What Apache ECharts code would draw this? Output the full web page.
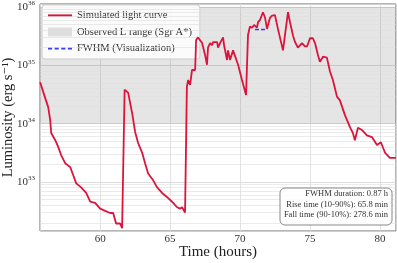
<!DOCTYPE html>
<html>
<head>
<meta charset="utf-8">
<script src="https://cdn.jsdelivr.net/npm/echarts@6/dist/echarts.min.js"></script>
<style>
html,body{margin:0;padding:0;background:#fff;}
#c{width:397px;height:263px;}
</style>
</head>
<body>
<div id="c"></div>
<script>
// ---- data ----
var timeHours = [
  55.71,55.93,56.07,56.29,56.43,56.50,56.79,57.00,57.21,57.50,57.86,58.07,58.29,58.64,59.00,59.29,59.64,60.00,60.36,60.71,60.93,61.14,61.43,61.57,61.64,
  61.75,61.86,62.00,62.29,62.50,62.71,63.00,63.21,63.43,63.79,64.07,64.43,64.79,65.14,65.50,65.71,65.86,66.07,66.14,
  66.20,66.29,66.43,66.57,66.64,66.79,66.86,67.00,67.29,67.50,67.64,67.71,67.86,68.00,68.07,68.21,68.36,68.43,68.57,68.79,68.86,
  69.07,69.14,69.29,69.43,69.50,69.64,69.86,70.14,70.43,70.50,
  70.57,70.71,70.86,71.00,71.21,71.29,71.43,71.64,71.79,71.93,72.14,72.29,72.50,72.71,73.07,73.43,73.57,73.79,73.93,74.14,74.43,74.64,74.79,
  75.00,75.21,75.36,75.57,75.71,75.93,76.21,76.43,76.64,76.93,77.14,77.50,77.86,78.07,78.21,78.43,78.71,79.07,79.43,79.79,80.07,80.36,80.71,81.14
];
var luminosity = [
  5.1e34,3.5e34,3.4e34,1.9e34,1.15e34,6.9e33,5.2e33,4.0e33,2.9e33,2.1e33,1.8e33,1.32e33,9.5e32,8.1e32,6.5e32,4.6e32,4.4e32,3.5e32,3.2e32,2.95e32,2.95e32,1.95e32,1.95e32,1.62e32,1.55e32,
  3.8e34,4.1e34,3.4e34,1.5e34,7.2e33,4.7e33,3.2e33,2.1e33,1.4e33,1.07e33,8.1e32,6.5e32,5.5e32,4.6e32,3.7e32,3.5e32,3.7e32,3.0e32,2.95e32,
  4.3e34,5.6e34,4.6e34,8.3e34,8.9e34,8.3e34,2.7e35,3.0e35,2.4e35,1.5e35,1.02e35,2.0e35,2.4e35,2.2e35,2.5e35,2.4e35,2.5e35,2.0e35,2.4e35,3.0e35,2.2e35,
  1.23e35,1.8e35,1.23e35,1.15e35,1.8e35,1.8e35,1.02e35,5.6e34,3.1e34,2.9e34,
  3.3e35,4.6e35,4.4e35,4.9e35,4.4e35,5.5e35,6.0e35,8.1e35,6.5e35,4.2e35,6.5e35,7.1e35,7.2e35,4.2e35,1.8e35,8.1e35,5.5e35,3.2e35,2.5e35,2.0e35,2.4e35,2.1e35,2.1e35,
  2.9e35,2.9e35,2.4e35,1.5e35,1.15e35,1.4e35,1.35e35,7.8e34,5.6e34,2.9e34,2.5e34,1.4e34,8.7e33,6.9e33,5.2e33,8.5e33,7.8e33,6.3e33,5.9e33,4.3e33,4.8e33,3.2e33,2.6e33,2.6e33
];
var fwhmTimes = [71.07, 71.94];
var fwhmLevel = [4.1e35, 4.1e35];
var observedRange = [1e34, 1e36];
var xTicks = [60, 65, 70, 75, 80];
var yDecades = [33, 34, 35, 36];
var minorDecades = [32, 33, 34, 35];
var minorMantissas = [2, 3, 4, 5, 6, 7, 8, 9];
var seriesNames = ['Simulated light curve', 'Observed L range (Sgr A*)', 'FWHM (Visualization)'];
var statLines = ['FWHM duration: 0.87 h', 'Rise time (10-90%): 65.8 min', 'Fall time (90-10%): 278.6 min'];

// ---- build chart ----
var FONT = "'Liberation Serif', 'DejaVu Serif', serif";
var curve = timeHours.map(function (t, i) { return [t, luminosity[i]]; });
var fwhm = fwhmTimes.map(function (t, i) { return [t, fwhmLevel[i]]; });
var minorLines = [];
minorDecades.forEach(function (d) {
  minorMantissas.forEach(function (m) { minorLines.push({ yAxis: m * Math.pow(10, d) }); });
});

var statGraphics = statLines.map(function (s, i) {
  return {
    type: 'text', x: 388, y: 194 + i * 10.5, z: 101,
    style: { text: s, fontFamily: FONT, fontSize: 8.5, fill: '#333', align: 'right', verticalAlign: 'middle' }
  };
});

var chart = echarts.init(document.getElementById('c'), null, { renderer: 'canvas' });
chart.setOption({
  animation: false,
  backgroundColor: '#ffffff',
  grid: { left: 40, right: 1, top: 4, bottom: 32, outerBoundsMode: 'none', containLabel: false,
          show: true, borderColor: '#6b6b6b', borderWidth: 1, backgroundColor: 'transparent' },
  xAxis: {
    type: 'value', min: 55.7, max: 81.15, splitNumber: 5,
    name: 'Time (hours)', nameLocation: 'middle', nameGap: 14, nameMoveOverlap: false,
    nameTextStyle: { fontFamily: FONT, fontSize: 15, color: '#222' },
    axisLine: { show: false }, axisTick: { show: false },
    axisLabel: {
      fontFamily: FONT, fontSize: 11, color: '#333', margin: 3,
      formatter: function (v) { return xTicks.indexOf(Math.round(v * 1000) / 1000) >= 0 ? String(v) : ''; }
    },
    splitLine: { show: true, lineStyle: { color: '#dcdcdc', width: 0.8 } }
  },
  yAxis: {
    type: 'log', logBase: 10, min: 1.45e32, max: 1.12e36,
    name: 'Luminosity (erg s⁻¹)', nameLocation: 'middle', nameGap: 24, nameRotate: 90, nameMoveOverlap: false,
    nameTextStyle: { fontFamily: FONT, fontSize: 14.5, color: '#222' },
    axisLine: { show: false }, axisTick: { show: false },
    axisLabel: {
      fontFamily: FONT, color: '#333', margin: 5,
      formatter: function (v) {
        var e = Math.log10(v);
        var r = Math.round(e);
        if (Math.abs(e - r) > 1e-6 || yDecades.indexOf(r) < 0) return '';
        return '{b|10}{s|' + r + '}';
      },
      rich: {
        b: { fontFamily: FONT, fontSize: 11, color: '#333', lineHeight: 14 },
        s: { fontFamily: FONT, fontSize: 7, color: '#333', verticalAlign: 'top', lineHeight: 8 }
      }
    },
    splitLine: { show: true, lineStyle: { color: '#d4d4d4', width: 0.8 } }
  },
  legend: {
    data: [
      { name: seriesNames[0], icon: 'path://M0,0H24V2.2H0Z' },
      { name: seriesNames[1], icon: 'rect' },
      { name: seriesNames[2], icon: 'path://M0,0H4V2H0ZM6.5,0H10.5V2H6.5ZM13,0H17V2H13ZM19.5,0H23.5V2H19.5Z' }
    ],
    orient: 'vertical', left: 42, top: 5,
    itemWidth: 24, itemHeight: 9, itemGap: 5.5,
    padding: [5, 8, 5, 6],
    backgroundColor: 'rgba(255,255,255,0.85)', borderColor: '#cccccc', borderWidth: 1, borderRadius: 3,
    textStyle: { fontFamily: FONT, fontSize: 10.5, color: '#333' }
  },
  series: [
    {
      name: seriesNames[1], type: 'line', data: [], z: 1, silent: true,
      itemStyle: { color: '#dedede' }, lineStyle: { color: '#dedede' },
      markArea: {
        silent: true,
        itemStyle: { color: 'rgba(0,0,0,0.1)' },
        data: [[{ yAxis: observedRange[0] }, { yAxis: observedRange[1] }]]
      }
    },
    {
      name: 'minor-grid', type: 'line', data: [], z: 2, silent: true,
      markLine: {
        silent: true, symbol: 'none', label: { show: false },
        lineStyle: { color: '#dedede', width: 0.6, type: 'solid' },
        data: minorLines
      }
    },
    {
      name: seriesNames[0], type: 'line', data: curve, z: 5,
      showSymbol: false, symbol: 'none',
      itemStyle: { color: '#dc143c' },
      lineStyle: { color: '#dc143c', width: 1.8 }
    },
    {
      name: seriesNames[2], type: 'line', data: fwhm, z: 6,
      showSymbol: false, symbol: 'none',
      itemStyle: { color: '#3a3af0' },
      lineStyle: { color: '#3a3af0', width: 1.4, type: [4, 2] }
    }
  ],
  graphic: [
    {
      type: 'rect', x: 280, y: 188, z: 100,
      shape: { width: 112, height: 37, r: 5 },
      style: { fill: 'rgba(255,255,255,0.85)', stroke: '#888888', lineWidth: 1 }
    }
  ].concat(statGraphics)
});
</script>
</body>
</html>
